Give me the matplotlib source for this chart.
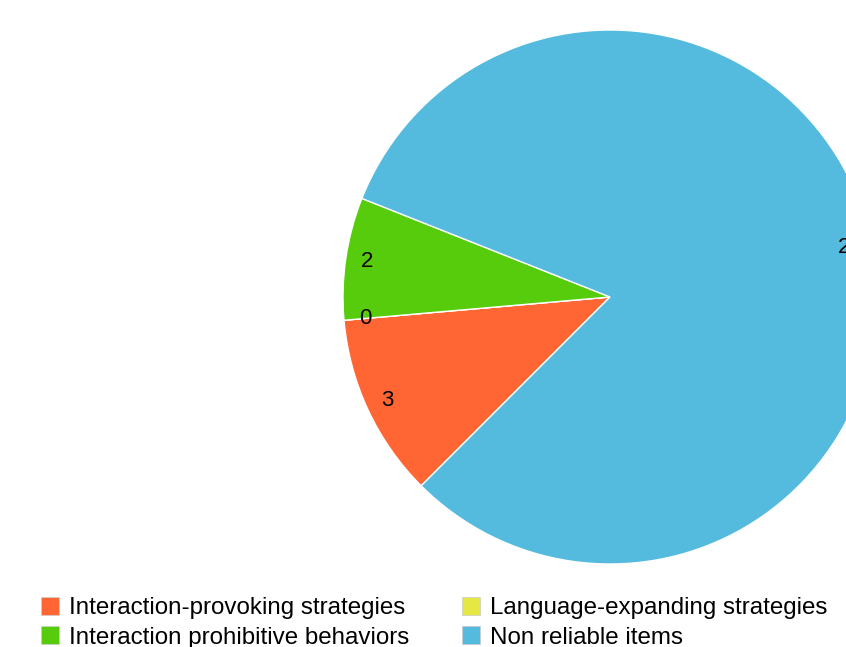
import matplotlib.pyplot as plt
from matplotlib.patches import Patch

categories = ['Interaction-provoking strategies', 'Language-expanding strategies',
              'Interaction prohibitive behaviors', 'Non reliable items']
values = [3, 0, 2, 22]
colours = ['#FF6633', '#E5E843', '#56CC0C', '#54BBDE']

plt.rcParams['font.family'] = ['Liberation Sans', 'DejaVu Sans']

W, H = 846, 647
fig = plt.figure(figsize=(W / 100, H / 100), dpi=100)

# pie centre (610, 297) px, radius 267 px
cx, cy, r = 610, 297, 267
ax = fig.add_axes([(cx - r) / W, (H - cy - r) / H, 2 * r / W, 2 * r / H])
total = sum(values)
wedges, _, autotexts = ax.pie(values, colors=colours, startangle=225, counterclock=False,
                              wedgeprops=dict(edgecolor='white', linewidth=1),
                              autopct=lambda p: f'{round(p * total / 100)}',
                              pctdistance=0.92, textprops=dict(fontsize=16, color='black'))
ax.set_xlim(-1, 1)
ax.set_ylim(-1, 1)
ax.set_aspect('equal')

handles = [Patch(facecolor=c, edgecolor='#cccccc', linewidth=0.5) for c in colours]
# order so columns read: provoking/expanding on row 1, prohibitive/non reliable on row 2
order = [0, 2, 1, 3]
fig.legend([handles[i] for i in order], [categories[i] for i in order],
           ncol=2, loc='upper left', bbox_to_anchor=(41 / W, 1 - 597 / H),
           frameon=False, fontsize=17.4, handlelength=0.74, handleheight=0.74,
           handletextpad=0.42, columnspacing=2.2, labelspacing=0.3, borderpad=0,
           borderaxespad=0)

fig.savefig('out.png', dpi=100)
